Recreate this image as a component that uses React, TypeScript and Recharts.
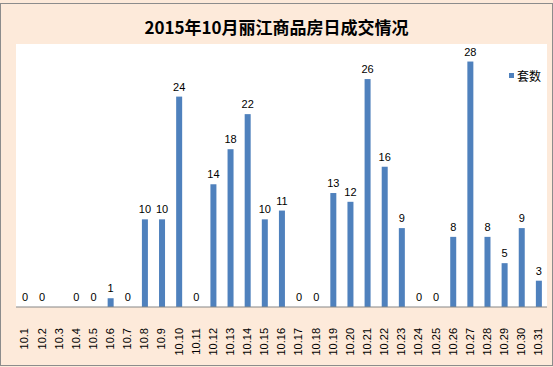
import { BarChart, Bar, XAxis, YAxis } from "recharts";

const days = [
  "10.1", "10.2", "10.3", "10.4", "10.5", "10.6", "10.7", "10.8", "10.9", "10.10",
  "10.11", "10.12", "10.13", "10.14", "10.15", "10.16", "10.17", "10.18", "10.19", "10.20",
  "10.21", "10.22", "10.23", "10.24", "10.25", "10.26", "10.27", "10.28", "10.29", "10.30", "10.31",
];
const units: (number | null)[] = [
  0, 0, null, 0, 0, 1, 0, 10, 10, 24,
  0, 14, 18, 22, 10, 11, 0, 0, 13, 12,
  26, 16, 9, 0, 0, 8, 28, 8, 5, 9, 3,
];

const data = days.map((d, i) => ({ day: d, units: units[i] }));

const BLUE = "#4F81BD";
const PEACH = "#FDEADA";
const FONT = "'Liberation Sans', Arial, sans-serif";

function DayTick(props: any) {
  const { x, y, payload } = props;
  return (
    <text
      transform={`translate(${x},${y + 13}) rotate(-90)`}
      textAnchor="end"
      dy="0.35em"
      fontSize={11}
      fontFamily={FONT}
      fill="#000"
    >
      {payload.value}
    </text>
  );
}

// bar plus its value label, so zero bars still get a "0"
function BarWithLabel(props: any) {
  const { x, y, width, height, payload } = props;
  const v = payload ? payload.units : null;
  if (v === null || v === undefined) return null;
  return (
    <g>
      {height > 0 && <rect x={x} y={y} width={width} height={height} fill={BLUE} />}
      <text
        x={x + width / 2}
        y={y - 6}
        textAnchor="middle"
        fontSize={11}
        fontFamily={FONT}
        fill="#000"
      >
        {v}
      </text>
    </g>
  );
}

export default function App() {
  return (
    <div style={{ position: "absolute", left: 0, top: 0, width: 553, height: 367, background: PEACH }}>
      <div
        style={{
          position: "absolute",
          left: 0,
          top: 3,
          width: 551,
          height: 361,
          border: "1px solid #8c8c8c",
        }}
      />
      <div
        style={{
          position: "absolute",
          left: 16,
          top: 44,
          width: 531,
          height: 263,
          background: "#fff",
        }}
      />
      <div
        style={{
          position: "absolute",
          top: 14,
          left: 0,
          width: 553,
          textAlign: "center",
          fontSize: 17,
          fontWeight: "bold",
          fontFamily: "'Noto Sans CJK SC', sans-serif",
          color: "#000",
        }}
      >
        2015年10月丽江商品房日成交情况
      </div>
      <div
        style={{
          position: "absolute",
          left: 509,
          top: 67,
          display: "flex",
          alignItems: "center",
          fontSize: 12,
          fontFamily: "'Noto Sans CJK SC', sans-serif",
        }}
      >
        <span style={{ width: 5, height: 5, background: BLUE, display: "inline-block", marginRight: 3 }} />
        <span>套数</span>
      </div>
      <BarChart
        width={553}
        height={367}
        data={data}
        margin={{ top: 44, right: 6, bottom: 0, left: 16 }}
        style={{ position: "absolute", left: 0, top: 0 }}
      >
        <XAxis
          dataKey="day"
          height={60}
          interval={0}
          tick={<DayTick />}
          tickLine={false}
          axisLine={{ stroke: "#868686" }}
        />
        <YAxis hide domain={[0, 30]} />
        <Bar dataKey="units" fill={BLUE} barSize={6} shape={<BarWithLabel />} isAnimationActive={false} />
      </BarChart>
    </div>
  );
}
